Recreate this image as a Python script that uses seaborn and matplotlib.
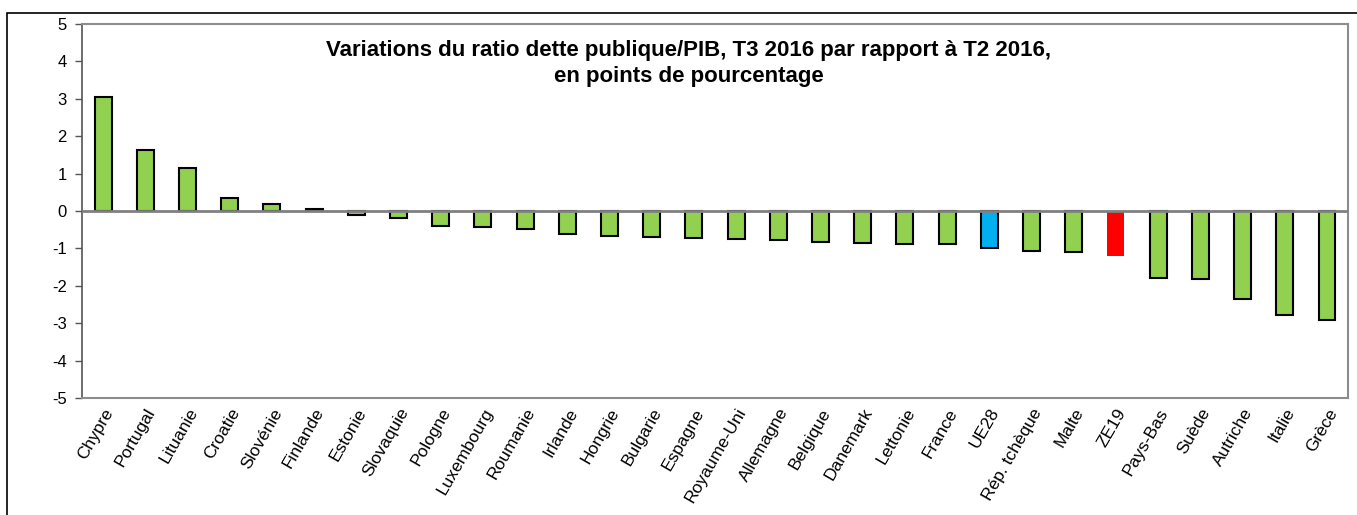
# Variations du ratio dette publique/PIB, T3 2016 vs T2 2016

import matplotlib
matplotlib.use("Agg")
import pandas as pd
import matplotlib.pyplot as plt
import seaborn as sns
from matplotlib.patches import Rectangle

# ------------------- Data -------------------

pays = ["Chypre", "Portugal", "Lituanie", "Croatie", "Slovénie", "Finlande",
        "Estonie", "Slovaquie", "Pologne", "Luxembourg", "Roumanie", "Irlande",
        "Hongrie", "Bulgarie", "Espagne", "Royaume-Uni", "Allemagne", "Belgique",
        "Danemark", "Lettonie", "France", "UE28", "Rép. tchèque", "Malte",
        "ZE19", "Pays-Bas", "Suède", "Autriche", "Italie", "Grèce"]

variation = [3.05, 1.63, 1.14, 0.34, 0.2, 0.06,
             -0.11, -0.18, -0.39, -0.44, -0.48, -0.61,
             -0.68, -0.70, -0.72, -0.75, -0.77, -0.83,
             -0.86, -0.87, -0.88, -1.0, -1.07, -1.09,
             -1.2, -1.78, -1.83, -2.34, -2.78, -2.91]

groupe = ["pays"] * 21 + ["UE28"] + ["pays"] * 2 + ["ZE19"] + ["pays"] * 5

couleurs = {"pays": "#92D050", "UE28": "#00B0F0", "ZE19": "#FF0000"}
bords = {"pays": "black", "UE28": "black", "ZE19": "none"}

df = pd.DataFrame({"pays": pays, "variation": variation, "groupe": groupe})

# ------------------- Bar Chart -------------------

sns.set_style("white")
plt.rcParams["font.family"] = ["Liberation Sans", "DejaVu Sans"]
plt.rcParams["axes.unicode_minus"] = False
plt.rcParams["text.color"] = "black"
plt.rcParams["xtick.color"] = "black"
plt.rcParams["ytick.color"] = "black"

fig = plt.figure(figsize=(13.57, 5.15), dpi=100)
ax = fig.add_axes([0.0604, 0.2272, 0.9330, 0.7262])

sns.barplot(data=df, x="pays", y="variation", hue="groupe",
            palette=couleurs, dodge=False, width=0.4, saturation=1,
            legend=False, ax=ax)

# edge colour per bar, from its category position
for bar in ax.patches:
    if bar.get_height() == 0:
        continue
    i = int(round(bar.get_x() + bar.get_width() / 2))
    bar.set_edgecolor(bords[groupe[i]])
    bar.set_linewidth(1.5)

ax.set_ylim(-5, 5)
ax.set_xlim(-0.5, len(pays) - 0.5)
ax.set_yticks(range(-5, 6))
ax.axhline(0, color="#808080", lw=2, zorder=3)

for side in ["top", "right", "bottom"]:
    ax.spines[side].set_color("#8C8C8C")
    ax.spines[side].set_linewidth(1.5)
ax.spines["left"].set_color("#555555")
ax.spines["left"].set_linewidth(1.2)

ax.tick_params(axis="y", left=True, length=5, width=1, color="#555555",
               labelsize=12, pad=6)
ax.tick_params(axis="x", bottom=False, labelsize=12.5, pad=2)
plt.setp(ax.get_xticklabels(), rotation=60, ha="right", rotation_mode="anchor")

ax.set_xlabel("")
ax.set_ylabel("")

ax.text(0.479, 0.958,
        "Variations du ratio dette publique/PIB, T3 2016 par rapport à T2 2016,\n"
        "en points de pourcentage",
        transform=ax.transAxes, ha="center", va="top", fontsize=16,
        fontweight="bold", linespacing=1.3)

# outer frame
fig.patches.append(Rectangle((7 / 1357, -0.01), 1.0, 1 - 13 / 515 + 0.01,
                             transform=fig.transFigure, fill=False,
                             edgecolor="black", lw=1.2))

fig.savefig("out.png", dpi=100)
